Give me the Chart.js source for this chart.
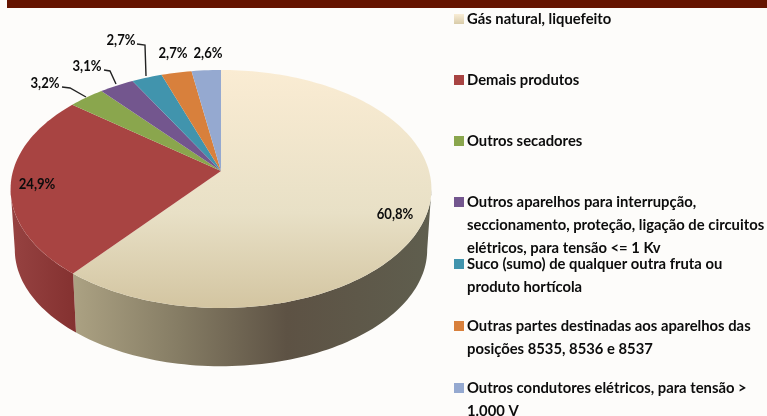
<!DOCTYPE html>
<html lang="pt">
<head>
<meta charset="utf-8">
<title>Gás natural, liquefeito</title>
<style>
  html, body { margin: 0; padding: 0; background: #fdfcfa; }
  canvas { display: block; }
</style>
<script src="https://cdn.jsdelivr.net/npm/chart.js@4"></script>
</head>
<body>
<canvas id="pie" width="767" height="416"></canvas>
<script>
// ── Data ──────────────────────────────────────────────────
const categories = [
  ['Gás natural, liquefeito'],
  ['Demais produtos'],
  ['Outros secadores'],
  ['Outros aparelhos para interrupção,', 'seccionamento, proteção, ligação de circuitos', 'elétricos, para tensão <= 1 Kv'],
  ['Suco (sumo) de qualquer outra fruta ou', 'produto hortícola'],
  ['Outras partes destinadas aos aparelhos das', 'posições 8535, 8536 e 8537'],
  ['Outros condutores elétricos, para tensão >', '1.000 V'],
];
const shares = [60.8, 24.9, 3.2, 3.1, 2.7, 2.7, 2.6];
const sliceColors = ['#f2e8cf', '#a84442', '#8aa64d', '#73568e', '#4194ad', '#d8803c', '#95a9d0'];

// ── Layout ────────────────────────────────────────────────
const FONT = 'bold 16px Lato, "Open Sans", sans-serif';
const PIE = { cx: 221, cy: 171, rx: 208, ry: 116.3, persp: 0.151, depth: 61, shrink: 0.98 };
const legendY = [19, 80, 141, 202, 264, 326, 388];
const valueLabelPos = [[395, 214], [37, 184], [45, 83], [87, 66], [121, 40], [173, 53], [208, 53]];
const leaders = [
  null, null,
  [[62, 87], [70, 88], [86, 97]],
  [[104, 70], [110, 71], [116, 84]],
  [[137, 44], [145, 45], [146, 76]],
  null, null,
];

// Flat circle to tilted disc, with the far side foreshortened
function project(theta, lower) {
  const u = Math.sin(theta), v = Math.cos(theta);
  const s = lower ? PIE.shrink : 1;
  const w = 1 + PIE.persp * v;
  return {
    x: PIE.cx + PIE.rx * s * u / w,
    y: PIE.cy + (lower ? PIE.depth : 0) - PIE.ry * s * v / w,
  };
}

function edge(ctx, from, to, lower) {
  const steps = Math.max(2, Math.ceil(Math.abs(to - from) * 40));
  for (let i = 0; i <= steps; i++) {
    const p = project(from + (to - from) * i / steps, lower);
    ctx.lineTo(p.x, p.y);
  }
}

function wallFill(ctx, index) {
  if (index === 0) {
    const g = ctx.createLinearGradient(72, 0, 430, 0);
    g.addColorStop(0, '#aca283');
    g.addColorStop(0.3, '#857c64');
    g.addColorStop(0.6, '#5d5244');
    g.addColorStop(1, '#5f5e4e');
    return g;
  }
  const g = ctx.createLinearGradient(12, 0, 76, 0);
  g.addColorStop(0, '#964241');
  g.addColorStop(1, '#843130');
  return g;
}

function topFill(ctx, index) {
  if (index !== 0) return sliceColors[index];
  const g = ctx.createLinearGradient(0, 70, 0, 308);
  g.addColorStop(0, '#faecd3');
  g.addColorStop(0.6, '#e8e0c6');
  g.addColorStop(1, '#d3c5a1');
  return g;
}

// Squeezed horizontally, the bold face here is wider than the one in the picture
function squeezedText(ctx, text, x, y, sx) {
  ctx.save();
  ctx.translate(x, y);
  ctx.scale(sx, 1);
  ctx.fillText(text, 0, 0);
  ctx.restore();
}

// ── Disc drawing, angles come from the pie controller ─────
const discPlugin = {
  id: 'disc',
  beforeDraw(chart) {
    const { ctx, width } = chart;
    ctx.save();
    ctx.fillStyle = '#651400';
    ctx.fillRect(7, 0, width - 7, 8);
    ctx.restore();
  },
  beforeDatasetsDraw(chart) {
    const { ctx } = chart;
    const arcs = chart.getDatasetMeta(0).data;
    const wallFrom = Math.acos(-PIE.persp);
    const wallTo = 2 * Math.PI - wallFrom;

    arcs.forEach((arc, i) => {
      const a = arc.startAngle + Math.PI / 2;
      const b = arc.endAngle + Math.PI / 2;
      const lo = Math.max(a, wallFrom), hi = Math.min(b, wallTo);
      if (hi <= lo) return;
      ctx.beginPath();
      edge(ctx, lo, hi, false);
      edge(ctx, hi, lo, true);
      ctx.closePath();
      ctx.fillStyle = wallFill(ctx, i);
      ctx.fill();
    });

    arcs.forEach((arc, i) => {
      const a = arc.startAngle + Math.PI / 2;
      const b = arc.endAngle + Math.PI / 2;
      ctx.beginPath();
      ctx.moveTo(PIE.cx, PIE.cy);
      edge(ctx, a, b, false);
      ctx.closePath();
      ctx.fillStyle = topFill(ctx, i);
      ctx.fill();
    });
    return false;
  },
  afterDraw(chart) {
    const { ctx } = chart;
    ctx.save();
    ctx.font = FONT;
    ctx.fillStyle = '#0c0c0c';
    ctx.textBaseline = 'middle';

    // value labels and their leaders
    ctx.textAlign = 'center';
    shares.forEach((v, i) => {
      const [x, y] = valueLabelPos[i];
      squeezedText(ctx, v.toFixed(1).replace('.', ',') + '%', x, y, 0.82);
      if (leaders[i]) {
        ctx.beginPath();
        leaders[i].forEach(([px, py]) => ctx.lineTo(px, py));
        ctx.strokeStyle = '#222';
        ctx.lineWidth = 1.4;
        ctx.stroke();
      }
    });

    // legend
    ctx.textAlign = 'left';
    categories.forEach((lines, i) => {
      ctx.fillStyle = sliceColors[i];
      if (i === 0) {
        const g = ctx.createLinearGradient(0, legendY[0] - 5, 0, legendY[0] + 5);
        g.addColorStop(0, '#f9edd6');
        g.addColorStop(1, '#d8cba8');
        ctx.fillStyle = g;
      }
      ctx.fillRect(454, legendY[i] - 5, 10, 10);
      ctx.fillStyle = '#0c0c0c';
      lines.forEach((line, n) => squeezedText(ctx, line, 467, legendY[i] + n * 23, 0.925));
    });
    ctx.restore();
  },
};

new Chart(document.getElementById('pie'), {
  type: 'pie',
  data: {
    labels: categories,
    datasets: [{ data: shares, backgroundColor: sliceColors, borderWidth: 0 }],
  },
  options: {
    responsive: false,
    animation: false,
    plugins: { legend: { display: false }, tooltip: { enabled: false } },
  },
  plugins: [discPlugin],
});
</script>
</body>
</html>
